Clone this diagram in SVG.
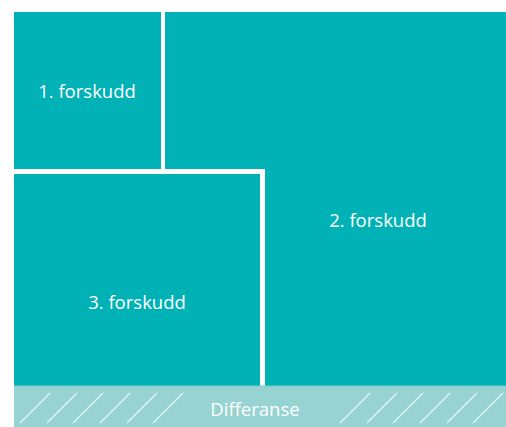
<svg xmlns="http://www.w3.org/2000/svg" width="506" height="427" viewBox="0 0 506 427">
<style>
.box{fill:#00B2B5}
.lbl{font-family:"Open Sans","Noto Sans",sans-serif;font-size:18.5px;fill:#FFFFFF;text-anchor:middle}
.hatch{stroke:#E6F5F5;stroke-width:1.2}
</style>
<rect width="506" height="427" fill="#FFFFFF"/>
<g id="forskudd1">
<rect class="box" x="14" y="12" width="147" height="157"/>
<text class="lbl" x="87" y="98">1. forskudd</text>
</g>
<g id="forskudd2">
<path class="box" d="M165 12 H506 V386 H265 V169 H165 Z"/>
<text class="lbl" x="378" y="227">2. forskudd</text>
</g>
<g id="forskudd3">
<rect class="box" x="14" y="174" width="246" height="212"/>
<text class="lbl" x="137" y="309">3. forskudd</text>
</g>
<g id="differanse">
<rect x="14" y="386" width="492" height="41" fill="#97D3D3"/>
<line x1="14" y1="386" x2="506" y2="386" stroke="#7FCBCB" stroke-width="1"/>
<g class="hatch">
<line x1="20" y1="423" x2="50" y2="393"/>
<line x1="47" y1="423" x2="77" y2="393"/>
<line x1="73" y1="423" x2="103" y2="393"/>
<line x1="100" y1="423" x2="130" y2="393"/>
<line x1="127" y1="423" x2="157" y2="393"/>
<line x1="153" y1="423" x2="183" y2="393"/>
<line x1="340" y1="423" x2="370" y2="393"/>
<line x1="367" y1="423" x2="397" y2="393"/>
<line x1="393" y1="423" x2="423" y2="393"/>
<line x1="420" y1="423" x2="450" y2="393"/>
<line x1="447" y1="423" x2="477" y2="393"/>
<line x1="473" y1="423" x2="503" y2="393"/>
</g>
<text class="lbl" x="255" y="416">Differanse</text>
</g>
<g id="connectors"/>
</svg>
